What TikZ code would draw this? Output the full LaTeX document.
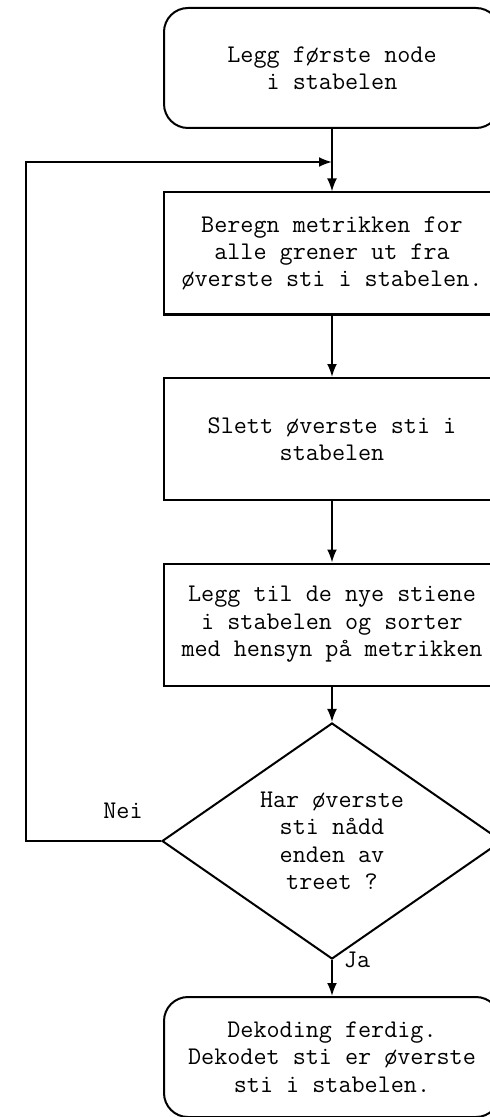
\documentclass[tikz,border=0pt]{standalone}
\usetikzlibrary{arrows.meta,shapes.geometric}
\tikzset{
	base/.style={draw, line width=1pt, align=center, font=\ttfamily\fontsize{12.7}{13.7}\selectfont},
	terminal/.style={base, rounded corners=12pt, minimum width=168pt, minimum height=60pt},
	process/.style={base, minimum width=168pt, minimum height=61pt},
	decision/.style={base, diamond, aspect=1.44, minimum width=170pt, minimum height=118pt, inner sep=0pt},
	flow/.style={line width=1pt, -{Latex[length=6.5pt,width=5pt]}},
	tag/.style={font=\ttfamily\fontsize{12.7}{13.7}\selectfont, inner sep=0pt}
}

\begin{document}
\begin{tikzpicture}[x=0.5pt, y=-0.5pt]
			%%%%% START %%%%%
			\useasboundingbox (0, 0) rectangle (490, 1117);
			\clip (0, 0) rectangle (490, 1117);
			
			\node[terminal] (start) at (332, 68) {Legg første node\\i stabelen};
			\node[process] (metric) at (332, 253.5) {Beregn metrikken for\\alle grener ut fra\\øverste sti i stabelen.};
			\node[process] (remove) at (332, 439) {Slett øverste sti i\\stabelen};
			\node[process] (insert) at (332, 624.5) {Legg til de nye stiene\\i stabelen og sorter\\med hensyn på metrikken};
			\node[decision] (check) at (332, 841) {Har øverste\\sti nådd\\enden av\\treet ?};
			\node[terminal] (done) at (332, 1057) {Dekoding ferdig.\\Dekodet sti er øverste\\sti i stabelen.};
			
			\coordinate (join) at (332, 162);
			\coordinate (loopbot) at (26, 841);
			\coordinate (looptop) at (26, 162);
			
			\draw[flow] (start) -- (metric);
			\draw[flow] (metric) -- (remove);
			\draw[flow] (remove) -- (insert);
			\draw[flow] (insert) -- (check);
			\draw[flow] (check) -- (done);
			\draw[flow] (check.west) -- (loopbot) -- (looptop) -- (join);
			
			\node[tag] (nei) at (123, 811) {Nei};
			\node[tag] (ja) at (357, 960) {Ja};
			
			%%%%% END %%%%%
\end{tikzpicture}
\end{document}
